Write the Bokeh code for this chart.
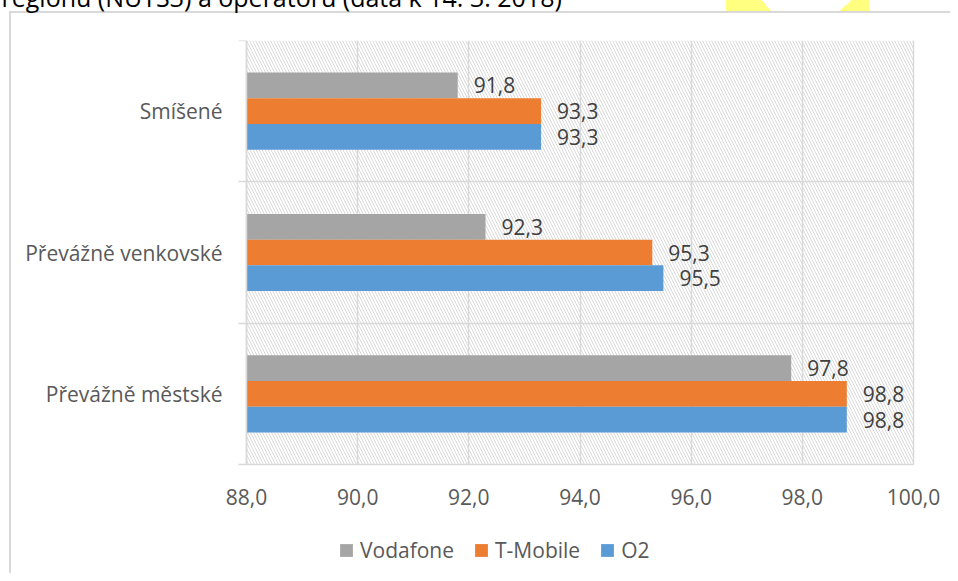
from bokeh.plotting import figure
from bokeh.models import (Range1d, FixedTicker, CustomJSTickFormatter, BoxAnnotation,
                          Title, Legend, LegendItem, ColumnDataSource, Grid)
from bokeh.transform import dodge
from bokeh.core.properties import value
from bokeh.embed import file_html
from bokeh.resources import INLINE

# ---- data (bottom to top) ----
categories = ["Převážně městské", "Převážně venkovské", "Smíšené"]
vodafone = [97.8, 92.3, 91.8]
tmobile = [98.8, 95.3, 93.3]
o2 = [98.8, 95.5, 93.3]
series_names = ["Vodafone", "T-Mobile", "O2"]
x_ticks = [88, 90, 92, 94, 96, 98, 100]
title_text = "regionu (NUTS3) a operátoru (data k 14. 3. 2018)"

FONT = "Open Sans"
GRID = "#d9d9d9"
YEL = "#ffff80"
TOP = 46          # canvas starts this many px above the page top
PAGE_W, PAGE_H = 950, 573
AREA_LEFT, AREA_RIGHT = 246, 913  # plot area on the page (px)
AREA_TOP, AREA_BOTTOM = 40, 464


def fmt(v):
    return f"{v:.1f}".replace(".", ",")


pos = [i + 0.5 for i in range(len(categories))]
bounds = [float(i) for i in range(len(categories) + 1)]

# the frame covers the whole chart so axes labels and legend are never clipped
ypx = (AREA_BOTTOM - AREA_TOP) / (bounds[-1] - bounds[0])
xpx = (AREA_RIGHT - AREA_LEFT) / (x_ticks[-1] - x_ticks[0])
y_start = bounds[0] - (PAGE_H - AREA_BOTTOM) / ypx
x_start = x_ticks[0] - AREA_LEFT / xpx
x_end = x_ticks[-1] + (PAGE_W - AREA_RIGHT) / xpx

src = ColumnDataSource(dict(
    y=pos, vodafone=vodafone, tmobile=tmobile, o2=o2,
    lv=[fmt(v) for v in vodafone], lt=[fmt(v) for v in tmobile], lo=[fmt(v) for v in o2],
))

p = figure(width=PAGE_W, height=PAGE_H + TOP,
           x_range=Range1d(x_start, x_end),
           y_range=Range1d(y_start, bounds[-1]),
           output_backend="svg", toolbar_location=None,
           min_border_left=0, min_border_right=0,
           min_border_top=0, min_border_bottom=0)
p.margin = (-TOP, 0, 0, 0)
# chart container border lines and the document's yellow marks, as element background
p.styles = {
    "background": ", ".join([
        f"linear-gradient(50deg, {YEL} 83%, transparent 83%) 726px {TOP}px / 45px 11px no-repeat",
        f"linear-gradient(140deg, transparent 30%, {YEL} 30%) 839px {TOP}px / 30px 11px no-repeat",
        f"linear-gradient({GRID},{GRID}) 9px {11 + TOP}px / 2px 100% no-repeat",
        f"linear-gradient({GRID},{GRID}) 9px {11 + TOP}px / 100% 2px no-repeat",
    ])
}
p.outline_line_color = None
p.background_fill_alpha = 0
p.border_fill_alpha = 0

# cut-off document text above the chart
p.title = Title(text=title_text, align="left", vertical_align="top", offset=1,
                standoff=50, text_font=FONT, text_font_size="25px",
                text_font_style="normal", text_color="#000000")

# hatched plot area background
p.add_layout(BoxAnnotation(left=x_ticks[0], right=x_ticks[-1], bottom=bounds[0],
                           fill_color=None, fill_alpha=0, line_alpha=0,
                           hatch_pattern="\\", hatch_color=GRID, hatch_alpha=1.0,
                           hatch_scale=6, hatch_weight=1, level="image"))

bh = 0.182
specs = [("vodafone", "lv", "#A5A5A5", bh, series_names[0]),
         ("tmobile", "lt", "#ED7D31", 0.0, series_names[1]),
         ("o2", "lo", "#5B9BD5", -bh, series_names[2])]
items = []
for key, lab, color, off, name in specs:
    r = p.hbar(y=dodge("y", off, range=p.y_range), left=x_ticks[0], right=key, height=bh,
               source=src, fill_color=color, line_color=None)
    p.text(x=key, y=dodge("y", off, range=p.y_range), text=lab, source=src,
           x_offset=16, text_align="left", text_baseline="middle",
           text_font=value(FONT), text_font_size="21px", text_color="#404040")
    items.append(LegendItem(label=name, renderers=[r]))

# y axis (categories), drawn at the left edge of the plot area
ya = p.yaxis[0]
ya.fixed_location = x_ticks[0]
ya.bounds = (bounds[0], bounds[-1])
ya.ticker = FixedTicker(ticks=pos, minor_ticks=bounds)
ya.major_label_overrides = {pos[i]: categories[i] for i in range(len(categories))}
ya.major_tick_line_color = None
ya.major_tick_out = 0
ya.major_tick_in = 0
ya.minor_tick_line_color = GRID
ya.minor_tick_line_width = 1.5
ya.minor_tick_out = 8
ya.minor_tick_in = 0
ya.axis_line_color = GRID
ya.axis_line_width = 1.5
ya.major_label_standoff = 16
ya.major_label_text_font = FONT
ya.major_label_text_font_size = "21px"
ya.major_label_text_color = "#595959"

# x axis (values), drawn at the bottom of the plot area
xa = p.xaxis[0]
xa.fixed_location = bounds[0]
xa.bounds = (x_ticks[0], x_ticks[-1])
xa.ticker = FixedTicker(ticks=x_ticks)
xa.formatter = CustomJSTickFormatter(code="return tick.toFixed(1).replace('.', ',');")
xa.axis_line_color = None
xa.major_tick_line_color = None
xa.minor_tick_line_color = None
xa.major_tick_out = 0
xa.major_tick_in = 0
xa.major_label_standoff = 24
xa.major_label_text_font = FONT
xa.major_label_text_font_size = "21px"
xa.major_label_text_color = "#595959"

if "cross_bounds" in Grid.properties():
    p.xgrid.ticker = FixedTicker(ticks=x_ticks)
    p.xgrid.cross_bounds = (bounds[0], bounds[-1])
    p.ygrid.ticker = FixedTicker(ticks=bounds)
    p.ygrid.cross_bounds = (x_ticks[0], x_ticks[-1])
    for g in (p.xgrid, p.ygrid):
        g.grid_line_color = GRID
        g.grid_line_width = 1.5
else:
    p.xgrid.visible = False
    p.ygrid.visible = False
    p.segment(x0=x_ticks, y0=bounds[0], x1=x_ticks, y1=bounds[-1],
              line_color=GRID, line_width=1.5, level="underlay")
    p.segment(x0=x_ticks[0], y0=bounds, x1=x_ticks[-1], y1=bounds,
              line_color=GRID, line_width=1.5, level="underlay")

legend = Legend(items=items, orientation="horizontal", location=(AREA_LEFT + 92, 9),
                padding=0, margin=0, spacing=19, label_standoff=6,
                glyph_width=16, glyph_height=16,
                label_text_font=FONT, label_text_font_size="21px",
                label_text_color="#595959", border_line_color=None,
                background_fill_alpha=0)
p.add_layout(legend)

open("out.html", "w").write(file_html(p, INLINE))
